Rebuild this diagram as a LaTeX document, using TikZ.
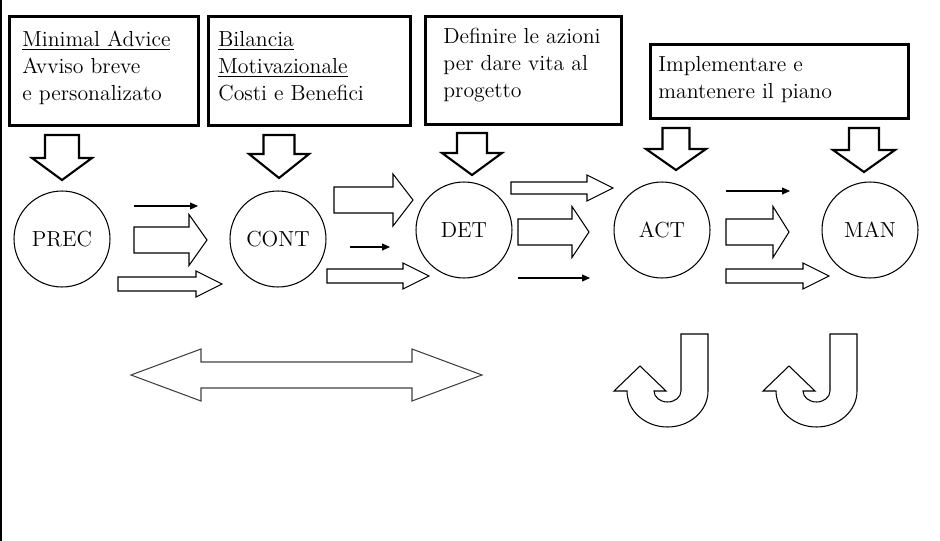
\documentclass[tikz,border=0pt]{standalone}
\usepackage{tikz}
\usetikzlibrary{arrows.meta}

% block arrows, given in pixel units of the picture
\newcommand{\rightblock}[6]{% x0, x1, xtip, yc, shaft half, head half
  \draw[blockarr] ({#1},{#4-#5}) -- ({#2},{#4-#5}) -- ({#2},{#4-#6}) -- ({#3},{#4})
    -- ({#2},{#4+#6}) -- ({#2},{#4+#5}) -- ({#1},{#4+#5}) -- cycle;}
\newcommand{\downblock}[6]{% xc, ytop, yshaft, ytip, shaft half, head half
  \draw[downarr] ({#1-#5},{#2}) -- ({#1+#5},{#2}) -- ({#1+#5},{#3}) -- ({#1+#6},{#3})
    -- ({#1},{#4}) -- ({#1-#6},{#3}) -- ({#1-#5},{#3}) -- cycle;}
\newcommand{\uturn}[1]{%
  \draw[blockarr, shift={(#1,0)}] (640,366) -- (666,391) -- (654,391)
    arc[start angle=180, end angle=360, x radius=0.27cm, y radius=0.22cm]
    -- (681,334) -- (708,334) -- (708,391)
    arc[start angle=0, end angle=-180, x radius=0.81cm, y radius=0.72cm]
    -- (614,391) -- cycle;}

\begin{document}
\begin{tikzpicture}[
  x=0.02cm, y=-0.02cm,
  every node/.style={font=\fontsize{12.4}{15.3}\selectfont},
  stagebox/.style={draw, line width=1.7pt, anchor=north west, inner sep=0pt},
  boxtext/.style={anchor=north west, align=left, inner sep=0pt},
  stage/.style={draw, circle, line width=0.6pt, minimum size=1.92cm, inner sep=0pt},
  downarr/.style={draw, line width=1.2pt, line join=miter},
  blockarr/.style={draw, line width=0.6pt},
  thinarr/.style={line width=0.6pt, -{Triangle[length=1.6mm,width=1.4mm]}},
]
\useasboundingbox (0,0) rectangle (940,541);
\draw[line width=1.1pt] (1,0) -- (1,541);

% boxes on top
\node[stagebox, minimum width=3.78cm, minimum height=2.18cm] (minimal) at (8,15) {};
\node[boxtext] (minimaltext) at (22,31) {\underline{Minimal Advice}\\Avviso breve\\e personalizato};
\node[stagebox, minimum width=4.04cm, minimum height=2.18cm] (bilancia) at (207,15) {};
\node[boxtext] (bilanciatext) at (218,31) {\underline{Bilancia}\\\underline{Motivazionale}\\Costi e Benefici};
\node[stagebox, minimum width=3.92cm, minimum height=2.16cm] (definire) at (424,15) {};
\node[boxtext] (definiretext) at (443,28) {Definire le azioni\\per dare vita al\\progetto};
\node[stagebox, minimum width=5.16cm, minimum height=1.48cm] (implementa) at (649,43) {};
\node[boxtext] (implementatext) at (658,56) {Implementare e\\mantenere il piano};

% stages
\node[stage] (prec) at (62,239) {PREC};
\node[stage] (cont) at (278,239) {CONT};
\node[stage] (det) at (464,230) {DET};
\node[stage] (act) at (662,230) {ACT};
\node[stage] (man) at (870,230) {MAN};

% arrows down
\downblock{62}{135}{158}{180}{17}{30}
\downblock{279}{135}{154}{178}{15.5}{30}
\downblock{472}{133}{153}{175}{15}{30}
\downblock{676}{128}{149}{170}{13.5}{30}
\downblock{864}{128}{150}{172}{15}{31}

% PREC -> CONT
\draw[thinarr] (134,206) -- (198,206);
\rightblock{134}{189}{207}{240}{13}{25.5}
\rightblock{118}{196}{222}{284}{7}{13}
% CONT -> DET
\rightblock{334}{393}{413}{200}{13}{26}
\draw[thinarr] (350,247) -- (390,247);
\rightblock{327}{403}{429}{276}{7}{13}
% DET -> ACT
\rightblock{511}{587}{613}{188}{6}{13}
\rightblock{518}{572}{589}{232}{13}{25.5}
\draw[thinarr] (518,278) -- (590,278);
% ACT -> MAN
\draw[thinarr] (726,191) -- (790,191);
\rightblock{726}{773}{789}{232}{13}{25.5}
\rightblock{726}{803}{829}{276}{7}{13}

% bottom
\draw[blockarr, draw=black!75] (131,375) -- (201,349) -- (201,362) -- (412,362) -- (412,349)
  -- (482,375) -- (412,401) -- (412,388) -- (201,388) -- (201,401) -- cycle;
\uturn{0}
\uturn{149}

\end{tikzpicture}
\end{document}
